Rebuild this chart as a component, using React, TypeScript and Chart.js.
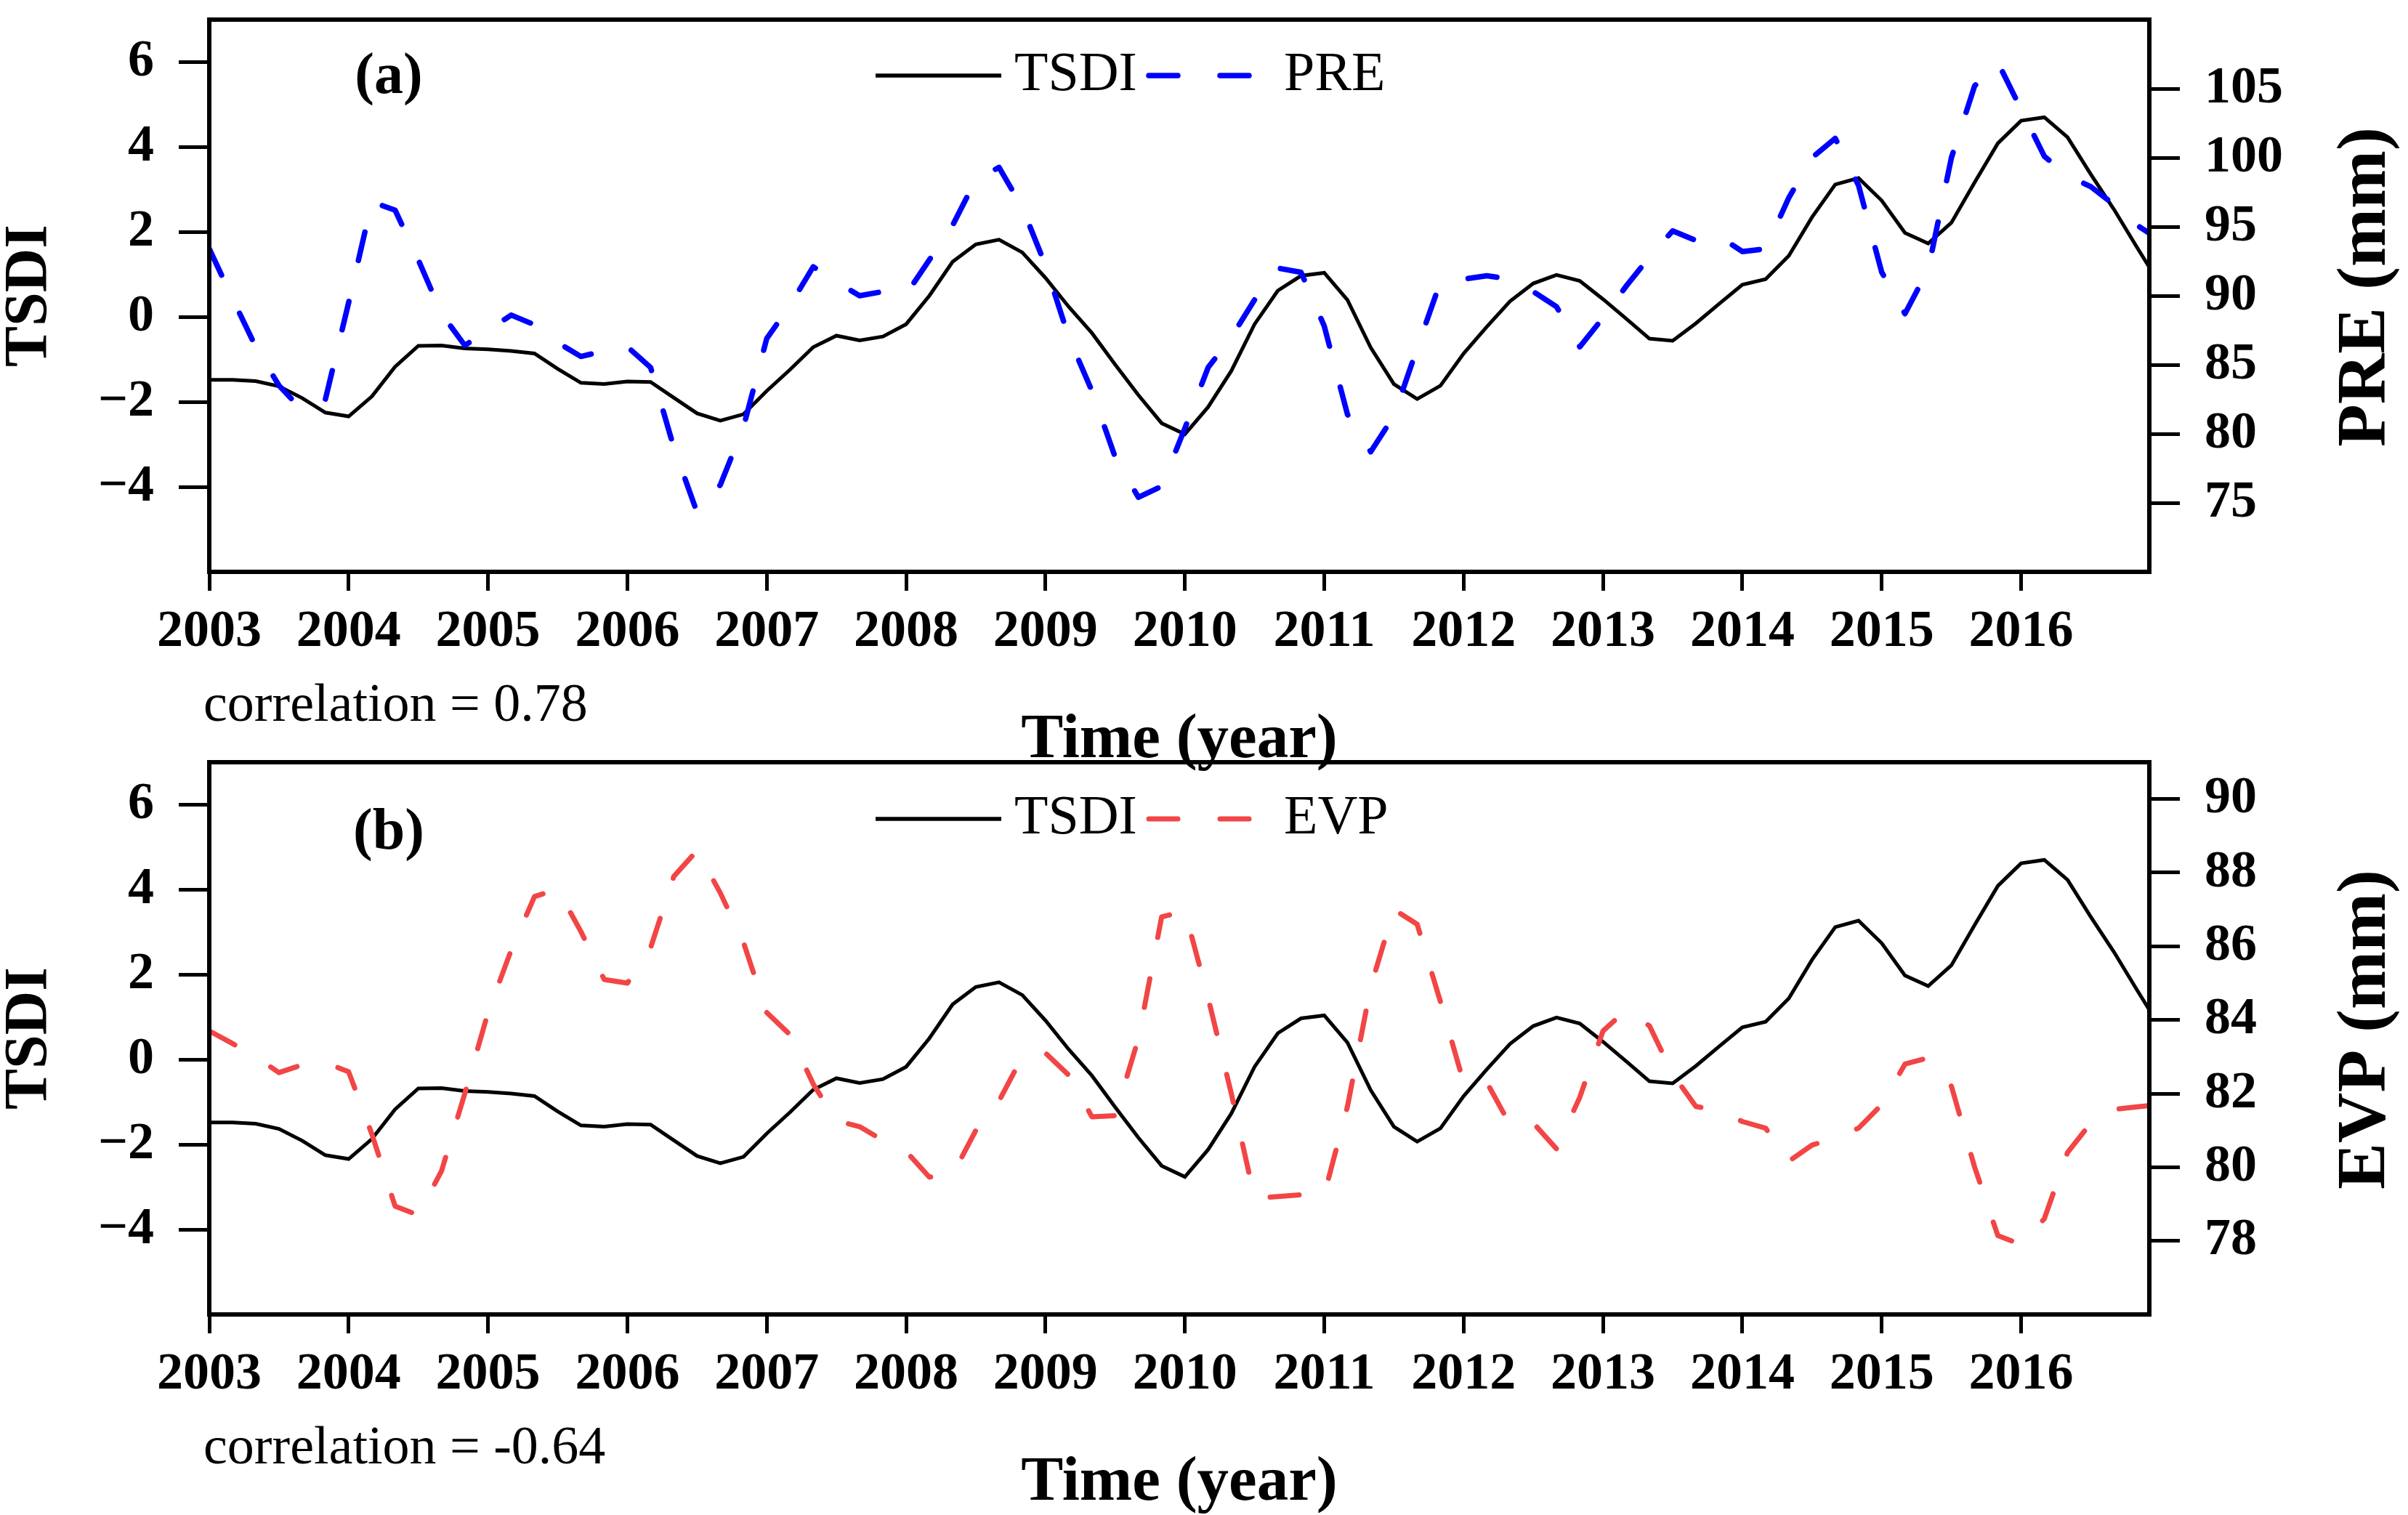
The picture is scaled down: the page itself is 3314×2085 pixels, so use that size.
import React, { useEffect, useRef } from "react";
import { Chart, registerables } from "chart.js";

Chart.register(...registerables);

const FONT = '"Liberation Serif", "Times New Roman", Times, serif';

// time axis: bimonthly samples starting Jan 2003
const START_YEAR = 2003;
const SAMPLES_PER_YEAR = 6;

const yearTicks = [2003, 2004, 2005, 2006, 2007, 2008, 2009, 2010, 2011, 2012, 2013, 2014, 2015, 2016];
const tsdiTicks = [-4, -2, 0, 2, 4, 6];
const preTicks = [75, 80, 85, 90, 95, 100, 105];
const evpTicks = [78, 80, 82, 84, 86, 88, 90];

const tsdi = [
  -1.48, -1.48, -1.51, -1.63, -1.91, -2.25, -2.34, -1.87, -1.17, -0.68,
  -0.67, -0.74, -0.76, -0.8, -0.86, -1.22, -1.55, -1.58, -1.52, -1.53,
  -1.9, -2.27, -2.44, -2.29, -1.74, -1.24, -0.71, -0.44, -0.55, -0.46,
  -0.17, 0.5, 1.3, 1.71, 1.82, 1.52, 0.92, 0.24, -0.38, -1.12,
  -1.84, -2.5, -2.76, -2.12, -1.27, -0.17, 0.62, 0.97, 1.04, 0.4,
  -0.72, -1.58, -1.93, -1.62, -0.86, -0.23, 0.37, 0.79, 0.99, 0.85,
  0.42, -0.04, -0.51, -0.56, -0.15, 0.31, 0.76, 0.89, 1.44, 2.35,
  3.12, 3.27, 2.74, 1.98, 1.73, 2.22, 3.17, 4.09, 4.62, 4.7,
  4.23, 3.36, 2.53, 1.63, 0.75,
];

const pre = [
  93.4, 89.8, 86.3, 83.5, 81.7, 82.5, 89.5, 96.8, 96.2, 92.6,
  88.7, 86.4, 87.5, 88.6, 87.9, 86.6, 85.6, 86.0, 86.3, 84.8,
  79.0, 74.3, 76.3, 80.5, 86.9, 89.3, 92.1, 91.0, 90.0, 90.3,
  90.1, 92.6, 95.1, 98.4, 99.3, 96.4, 92.2, 87.0, 83.1, 78.3,
  75.4, 76.2, 80.4, 84.8, 87.0, 89.7, 92.0, 91.7, 87.8, 81.4,
  78.7, 81.3, 86.2, 91.0, 91.2, 91.45, 91.2, 90.3, 89.2, 86.3,
  88.4, 90.7, 92.8, 94.7, 94.0, 94.3, 93.2, 93.4, 97.1, 100.0,
  101.4, 98.0, 91.7, 88.7, 91.9, 100.0, 105.2, 106.9, 103.5, 100.1,
  98.7, 97.9, 96.6, 95.1, 94.0,
];

const evp = [
  83.7, 83.36, 83.0, 82.57, 82.78, 82.84, 82.59, 80.9, 78.94, 78.7,
  79.9, 82.0, 84.2, 85.9, 87.35, 87.55, 86.4, 85.1, 85.0, 85.96,
  87.9, 88.6, 87.45, 86.1, 84.2, 83.6, 82.26, 81.26, 81.1, 80.73,
  80.43, 79.73, 79.8, 81.0, 81.8, 83.0, 83.1, 82.5, 81.37, 81.4,
  83.5, 86.8, 86.96, 84.6, 82.0, 79.16, 79.2, 79.25, 79.25, 81.65,
  84.9, 87.0, 86.6, 84.5, 82.3, 82.3, 81.15, 81.2, 80.5, 81.9,
  83.7, 84.27, 83.84, 82.53, 81.65, 81.54, 81.24, 81.06, 80.16, 80.6,
  80.8, 81.06, 81.7, 82.8, 82.97, 82.2, 80.0, 78.14, 77.9, 78.6,
  80.4, 81.2, 81.57, 81.64, 81.7,
];

const W = 3314;
const H = 1063;
const AREA = { left: 288, right: 2958, top: 27, bottom: 787 };
const DASH = [40, 58];

const toPoints = (vals: number[]) =>
  vals.map((v, i) => ({ x: START_YEAR + i / SAMPLES_PER_YEAR, y: v }));

const minusLabel = (v: number) => (v < 0 ? "\u2212" + Math.abs(v) : String(v));

const tickFont = { family: FONT, size: 72, weight: "bold" as const };

const zeroPad = (s: any) => {
  s.paddingTop = 0;
  s.paddingBottom = 0;
  s.paddingLeft = 0;
  s.paddingRight = 0;
};

const decorPlugin = {
  id: "decor",
  afterDraw(chart: any, _args: any, o: any) {
    const { ctx, chartArea: a } = chart;
    ctx.save();
    // frame
    ctx.strokeStyle = "#000";
    ctx.lineWidth = 6;
    ctx.setLineDash([]);
    ctx.strokeRect(a.left, a.top, a.right - a.left, a.bottom - a.top);

    // legend
    o.legend.forEach((it: any) => {
      ctx.beginPath();
      ctx.setLineDash(it.dash);
      ctx.lineCap = it.cap;
      ctx.lineWidth = it.width;
      ctx.strokeStyle = it.color;
      ctx.moveTo(it.x0, o.legendY);
      ctx.lineTo(it.x0 + o.handle, o.legendY);
      ctx.stroke();
      ctx.setLineDash([]);
      ctx.fillStyle = "#000";
      ctx.font = `76px ${FONT}`;
      ctx.textAlign = "left";
      ctx.textBaseline = "middle";
      ctx.fillText(it.label, it.tx, o.legendY);
    });

    // panel tag
    ctx.fillStyle = "#000";
    ctx.font = `bold 80px ${FONT}`;
    ctx.textAlign = "center";
    ctx.textBaseline = "middle";
    ctx.fillText(o.tag, o.tagX, o.tagY);

    // correlation note
    ctx.font = `74px ${FONT}`;
    ctx.textAlign = "left";
    ctx.textBaseline = "alphabetic";
    ctx.fillText(o.corr, o.corrX, o.corrY);

    // right axis title (reads bottom to top)
    ctx.translate(o.rightTitleX, (a.top + a.bottom) / 2 + o.rightTitleDy);
    ctx.rotate(-Math.PI / 2);
    ctx.font = `bold 96px ${FONT}`;
    ctx.textAlign = "center";
    ctx.textBaseline = "middle";
    ctx.fillText(o.rightTitle, 0, 0);
    ctx.restore();
  },
};

type PanelCfg = {
  rightName: string;
  rightTitle: string;
  rightValues: number[];
  rightMin: number;
  rightMax: number;
  rightTicks: number[];
  color: string;
  dashWidth: number;
  tag: string;
  tagY: number;
  corr: string;
  legendY: number;
};

const panelA: PanelCfg = {
  rightName: "PRE",
  rightTitle: "PRE (mm)",
  rightValues: pre,
  rightMin: 70,
  rightMax: 110,
  rightTicks: preTicks,
  color: "#0000ff",
  dashWidth: 7.5,
  tag: "(a)",
  tagY: 107,
  corr: "correlation = 0.78",
  legendY: 104,
};

const panelB: PanelCfg = {
  rightName: "EVP",
  rightTitle: "EVP (mm)",
  rightValues: evp,
  rightMin: 76,
  rightMax: 91,
  rightTicks: evpTicks,
  color: "#f24545",
  dashWidth: 7,
  tag: "(b)",
  tagY: 125,
  corr: "correlation = -0.64",
  legendY: 105,
};

function buildConfig(p: PanelCfg): any {
  const grid = (len: number) => ({
    display: true,
    drawOnChartArea: false,
    drawTicks: true,
    tickLength: len,
    tickWidth: 5,
    tickColor: "#000",
  });
  return {
    type: "line",
    data: {
      datasets: [
        {
          label: p.rightName,
          data: toPoints(p.rightValues),
          yAxisID: "y1",
          borderColor: p.color,
          borderWidth: p.dashWidth,
          borderDash: DASH,
          borderCapStyle: "round",
          borderJoinStyle: "round",
          pointRadius: 0,
          fill: false,
          tension: 0,
          order: 0,
        },
        {
          label: "TSDI",
          data: toPoints(tsdi),
          yAxisID: "y",
          borderColor: "#000",
          borderWidth: 5,
          borderJoinStyle: "miter",
          pointRadius: 0,
          fill: false,
          tension: 0,
          order: 1,
        },
      ],
    },
    options: {
      responsive: false,
      maintainAspectRatio: false,
      devicePixelRatio: 1,
      animation: false,
      events: [],
      layout: { autoPadding: false, padding: { top: AREA.top, left: 0, right: 0, bottom: 0 } },
      plugins: {
        legend: { display: false },
        tooltip: { enabled: false },
        decor: {
          legendY: p.legendY,
          handle: 173,
          legend: [
            { label: "TSDI", color: "#000", width: 5.5, dash: [], cap: "butt", x0: 1205, tx: 1396 },
            { label: p.rightName, color: p.color, width: p.dashWidth, dash: DASH, cap: "round", x0: 1581, tx: 1767 },
          ],
          tag: p.tag,
          tagX: 535,
          tagY: p.tagY,
          corr: p.corr,
          corrX: 280,
          corrY: 992,
          rightTitle: p.rightTitle,
          rightTitleX: 3257,
          rightTitleDy: -12,
        },
      },
      scales: {
        x: {
          type: "linear",
          position: "bottom",
          min: 2003,
          max: 2016.92,
          afterBuildTicks: (s: any) => {
            s.ticks = yearTicks.map((v) => ({ value: v }));
          },
          afterFit: (s: any) => {
            s.height = H - AREA.bottom;
            zeroPad(s);
          },
          ticks: {
            font: tickFont,
            color: "#000",
            padding: 14,
            autoSkip: false,
            maxRotation: 0,
            callback: (v: number) => String(v),
          },
          grid: grid(26),
          border: { display: false },
          title: {
            display: true,
            text: "Time (year)",
            color: "#000",
            font: { family: FONT, size: 87, weight: "bold", lineHeight: 1 },
            padding: 0,
          },
        },
        y: {
          type: "linear",
          position: "left",
          min: -6,
          max: 7,
          afterBuildTicks: (s: any) => {
            s.ticks = tsdiTicks.map((v) => ({ value: v }));
          },
          afterFit: (s: any) => {
            s.width = AREA.left;
            zeroPad(s);
          },
          ticks: { font: tickFont, color: "#000", padding: 34, callback: minusLabel },
          grid: grid(42),
          border: { display: false },
          title: {
            display: true,
            text: "TSDI",
            color: "#000",
            font: { family: FONT, size: 84, weight: "bold", lineHeight: 1 },
            padding: 0,
          },
        },
        y1: {
          type: "linear",
          position: "right",
          min: p.rightMin,
          max: p.rightMax,
          afterBuildTicks: (s: any) => {
            s.ticks = p.rightTicks.map((v) => ({ value: v }));
          },
          afterFit: (s: any) => {
            s.width = W - AREA.right;
            zeroPad(s);
          },
          ticks: { font: tickFont, color: "#000", padding: 34, callback: (v: number) => String(v) },
          grid: grid(42),
          border: { display: false },
        },
      },
    },
    plugins: [decorPlugin],
  };
}

function Panel({ cfg, top }: { cfg: PanelCfg; top: number }) {
  const ref = useRef<HTMLCanvasElement>(null);
  useEffect(() => {
    const chart = new Chart(ref.current as HTMLCanvasElement, buildConfig(cfg));
    return () => chart.destroy();
  }, [cfg]);
  return (
    <canvas
      ref={ref}
      width={W}
      height={H}
      style={{ position: "absolute", left: 0, top, width: W, height: H, display: "block" }}
    />
  );
}

export default function App() {
  return (
    <div
      style={{
        position: "fixed",
        left: 0,
        top: 0,
        width: W,
        height: 2085,
        background: "#fff",
        overflow: "hidden",
      }}
    >
      <Panel cfg={panelA} top={0} />
      <Panel cfg={panelB} top={1022} />
    </div>
  );
}
